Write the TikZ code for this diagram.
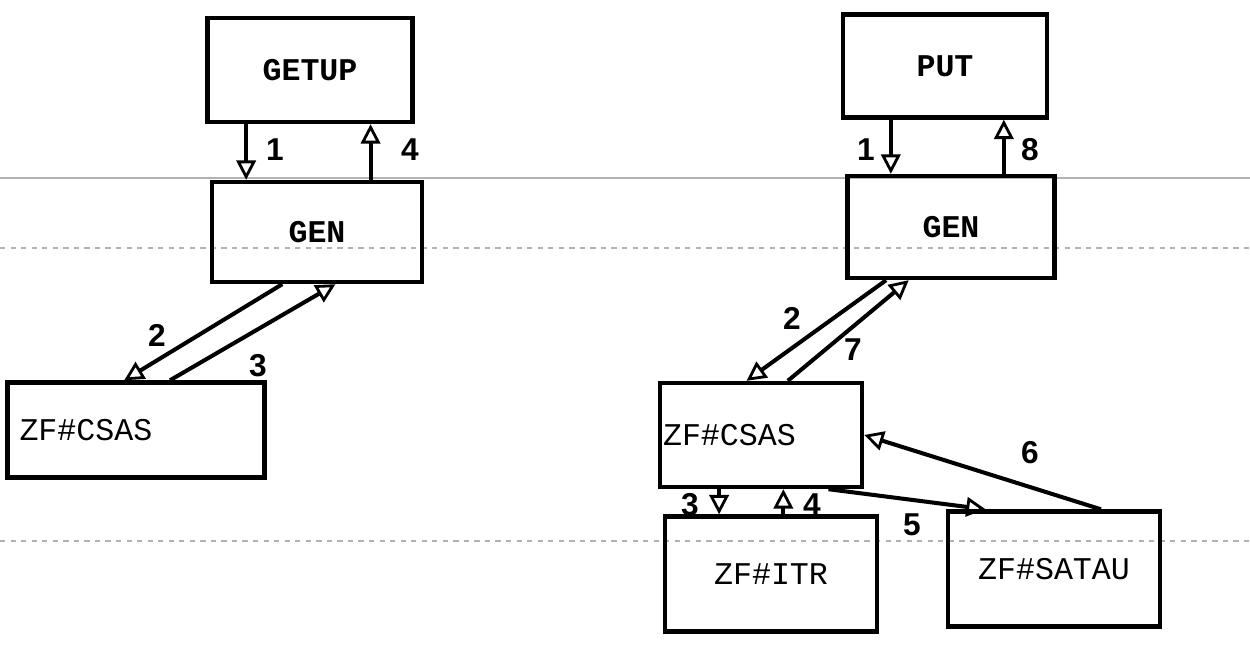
\documentclass[tikz,border=0pt]{standalone}
\usepackage{fontspec}
\setmonofont{Liberation Mono}
\setsansfont{Liberation Sans}
\usepackage{tikz}
\usetikzlibrary{arrows.meta, calc}

\begin{document}
\begin{tikzpicture}[x=0.02cm, y=-0.02cm,
  box/.style={draw, line width=2.5pt, minimum width=#1, align=center,
    font=\ttfamily\bfseries\fontsize{18}{20}\selectfont},
  box/.default={4.1cm},
  modbox/.style={draw, line width=2.5pt, align=left,
    font=\ttfamily\fontsize{18}{20}\selectfont},
  arr/.style={-{Triangle[open, length=11pt, width=11pt, line width=1.6pt]}, line width=2.3pt},
  num/.style={font=\sffamily\bfseries\fontsize{18}{20}\selectfont},
  rule/.style={gray!60, line width=0.6pt}
]
  \useasboundingbox (0,0) rectangle (1250,645);

  % faint table rules of the page behind
  \draw[rule] (0,178) -- (1250,178);
  \draw[rule, dashed] (0,248) -- (1250,248);
  \draw[rule, dashed] (0,541) -- (1250,541);

  % left group
  \node[box=4.1cm, minimum height=2.08cm] (getup) at (310,70) {GETUP};
  \node[box=4.2cm, minimum height=2.0cm] (genl) at (317,232) {GEN};
  \node[modbox, text width=4.66cm, inner xsep=0.24cm, minimum height=1.9cm]
    (csasl) at (136,430) {ZF\#CSAS};

  % right group
  \node[box=4.08cm, minimum height=2.06cm] (put) at (945,66) {PUT};
  \node[box=4.14cm, minimum height=2.04cm] (genr) at (951,227) {GEN};
  \node[modbox, text width=3.92cm, inner xsep=0.06cm, minimum height=2.08cm]
    (csasr) at (761,435) {ZF\#CSAS};
  \node[box=4.24cm, minimum height=2.3cm, font=\ttfamily\fontsize{18}{20}\selectfont]
    (itr) at (771,574) {ZF\#ITR};
  \node[box=4.24cm, minimum height=2.3cm, font=\ttfamily\fontsize{18}{20}\selectfont]
    (satau) at (1054,569) {ZF\#SATAU};

  % arrows, left
  \draw[arr] ($(getup.south west)!0.195!(getup.south east)$) coordinate (l1) -- (l1 |- genl.north);
  \draw[arr] ($(genl.north west)!0.75!(genl.north east)$) coordinate (l4) -- (l4 |- getup.south);
  \draw[arr] ($(genl.south west)!0.338!(genl.south east)$) -- ($(csasl.north west)!0.455!(csasl.north east)$);
  \draw[arr] ($(csasl.north west)!0.63!(csasl.north east)$) -- ($(genl.south west)!0.586!(genl.south east)$);

  % arrows, right
  \draw[arr] ($(put.south west)!0.24!(put.south east)$) coordinate (r1) -- (r1 |- genr.north);
  \draw[arr] ($(genr.north west)!0.75!(genr.north east)$) coordinate (r8) -- (r8 |- put.south);
  \draw[arr] ($(genr.south west)!0.193!(genr.south east)$) -- ($(csasr.north west)!0.43!(csasr.north east)$);
  \draw[arr] ($(csasr.north west)!0.63!(csasr.north east)$) -- ($(genr.south west)!0.30!(genr.south east)$);
  \draw[arr] ($(csasr.south west)!0.297!(csasr.south east)$) coordinate (r3) -- (r3 |- itr.north);
  \draw[arr] ($(itr.north west)!0.557!(itr.north east)$) coordinate (r4) -- (r4 |- csasr.south);
  \draw[arr] ($(csasr.south west)!0.827!(csasr.south east)$) -- ($(satau.north west)!0.184!(satau.north east)$);
  \draw[arr] ($(satau.north west)!0.717!(satau.north east)$) -- (csasr.east);

  % step numbers
  \node[num] (n1l) at (275,150) {1};
  \node[num] (n4l) at (410,150) {4};
  \node[num] (n2l) at (157,335) {2};
  \node[num] (n3l) at (258,366) {3};
  \node[num] (n1r) at (866,150) {1};
  \node[num] (n8r) at (1030,150) {8};
  \node[num] (n2r) at (792,318) {2};
  \node[num] (n7r) at (853,350) {7};
  \node[num] (n3r) at (690,505) {3};
  \node[num] (n4r) at (812,505) {4};
  \node[num] (n5r) at (912,525) {5};
  \node[num] (n6r) at (1030,453) {6};
\end{tikzpicture}
\end{document}
